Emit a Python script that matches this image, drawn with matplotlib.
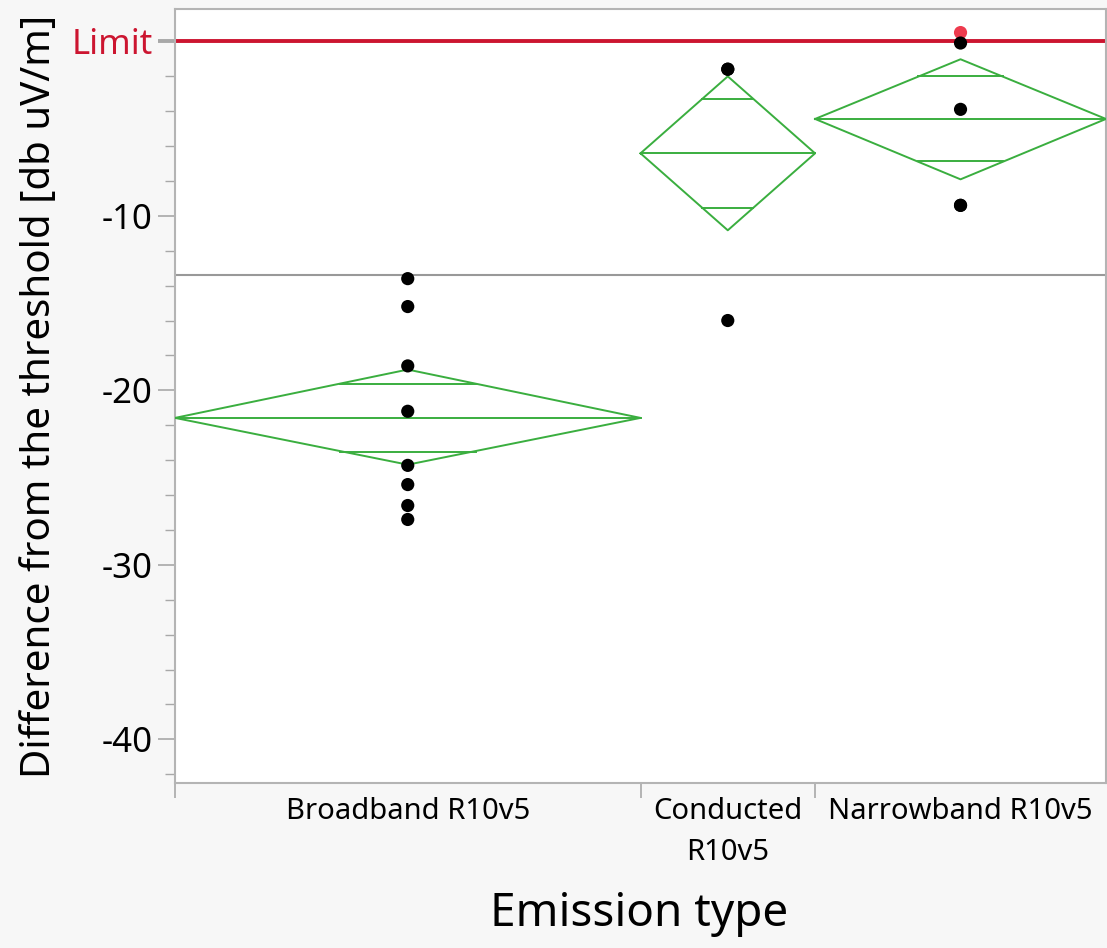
import numpy as np
from matplotlib import pyplot as plt
from matplotlib.ticker import MultipleLocator, FixedLocator, NullFormatter

plt.rcParams['font.family'] = ['Noto Sans', 'DejaVu Sans']

categories = ["Broadband R10v5", "Conducted\nR10v5", "Narrowband R10v5"]
broadband = [-13.6, -15.2, -18.6, -21.2, -24.3, -25.4, -26.6, -27.4]
conducted = [-1.6, -1.6, -16.0]
narrowband = [0.5, -0.1, -3.9, -9.4, -9.4]
highlighted = [(2, 0)]  # (group, index) of the selected row shown in red

# means diamonds
means = [-21.58, -6.42, -4.45]
ci_upper = [-18.81, -2.01, -1.03]
ci_lower = [-24.26, -10.83, -7.91]
grand_mean = -13.4
limit = 0

groups = [broadband, conducted, narrowband]
widths = [len(g) for g in groups]
edges = np.concatenate([[0], np.cumsum(widths)])
centers = (edges[:-1] + edges[1:]) / 2

BG = '#f7f7f7'
GRID = '#a8a8a8'
GREEN = '#3aae3f'
RED = '#cc1530'

fig = plt.figure(figsize=(11.07, 9.48), dpi=100, facecolor=BG)
ax = fig.add_axes([175 / 1107, 1 - 783 / 948, 931 / 1107, 774 / 948])
ax.set_facecolor('white')

ax.axhline(grand_mean, color='#999999', lw=1.5, zorder=1)
ax.axhline(limit, color=RED, lw=2.8, zorder=2)

for i, vals in enumerate(groups):
    x0, x1, xc = edges[i], edges[i + 1], centers[i]
    m, hi, lo = means[i], ci_upper[i], ci_lower[i]
    ax.plot([x0, xc, x1, xc, x0], [m, hi, m, lo, m], color=GREEN, lw=1.4, zorder=3)
    ax.plot([x0, x1], [m, m], color=GREEN, lw=1.4, zorder=3)
    half = (hi - lo) / 2
    for sgn in (1, -1):
        yo = m + sgn * half / np.sqrt(2)
        frac = 1 - abs(yo - m) / half
        hw = frac * (x1 - x0) / 2
        ax.plot([xc - hw, xc + hw], [yo, yo], color=GREEN, lw=1.4, zorder=3)
    colors = ['#ee3b4e' if (i, j) in highlighted else 'black' for j in range(len(vals))]
    ax.scatter([xc] * len(vals), vals, s=90, c=colors, zorder=4, linewidths=0)

ax.set_xlim(edges[0], edges[-1])
ax.set_ylim(-42.5, 1.85)

ax.yaxis.set_major_locator(FixedLocator([-40, -30, -20, -10, 0]))
ax.yaxis.set_minor_locator(MultipleLocator(2))
ax.set_yticklabels(['-40', '-30', '-20', '-10', 'Limit'])
ax.tick_params(axis='y', which='major', length=12, width=1.2, color=GRID,
               labelsize=25, pad=4, direction='out')
ax.tick_params(axis='y', which='minor', length=7, width=1.0, color=GRID)
ylabels = ax.get_yticklabels()
ylabels[-1].set_color(RED)
ax.yaxis.get_major_ticks()[-1].tick1line.set_color(RED)
ax.yaxis.get_major_ticks()[-1].tick1line.set_markeredgewidth(2.8)

ax.xaxis.set_major_locator(FixedLocator(edges[:-1]))
ax.xaxis.set_major_formatter(NullFormatter())
ax.xaxis.set_minor_locator(FixedLocator(centers))
ax.set_xticklabels(categories, minor=True)
ax.tick_params(axis='x', which='major', length=11, width=1.2, color=GRID)
ax.tick_params(axis='x', which='minor', length=0, labelsize=21, pad=10)
for lbl in ax.get_xticklabels(minor=True):
    lbl.set_linespacing(1.55)

for side in ['left', 'bottom', 'top', 'right']:
    ax.spines[side].set_color('#b4b4b4')
    ax.spines[side].set_linewidth(1.5)

fig.text(40 / 1107, 1 - 396 / 948, 'Difference from the threshold [db uV/m]',
         rotation=90, ha='center', va='center', fontsize=29)
fig.text(639 / 1107, 1 - 914 / 948, 'Emission type', ha='center', va='center', fontsize=33)

fig.savefig('out.png', dpi=100, facecolor=BG)
